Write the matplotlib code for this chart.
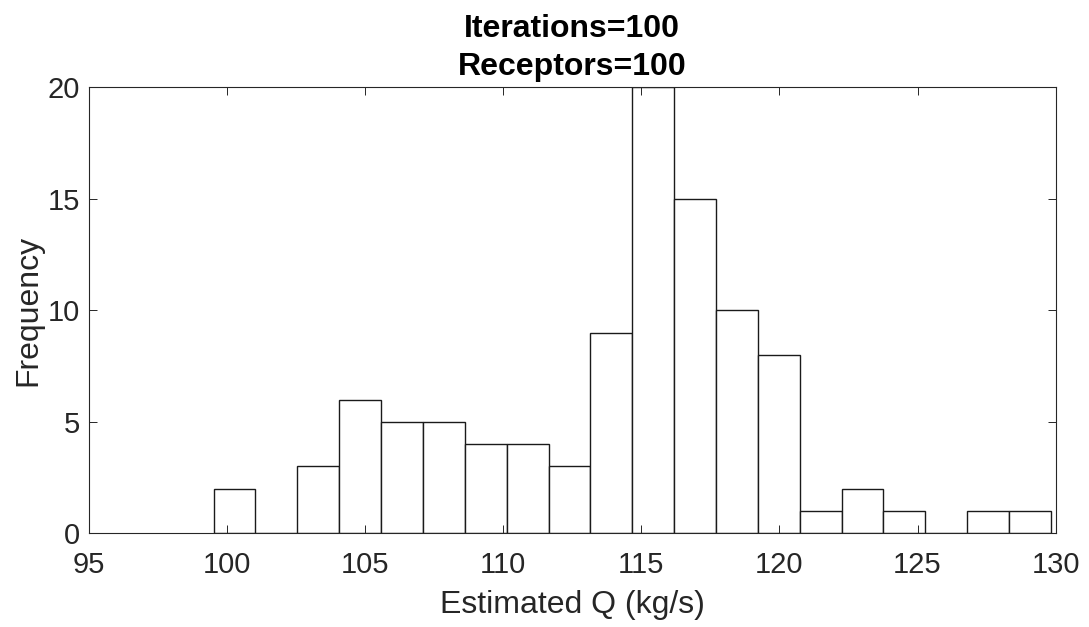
import matplotlib.pyplot as plt
import numpy as np

# Histogram of estimated Q, 20 bins
bin_edges = [99.53, 101.04, 102.56, 104.07, 105.59, 107.10, 108.62, 110.13,
             111.65, 113.16, 114.68, 116.19, 117.70, 119.22, 120.73, 122.25,
             123.76, 125.28, 126.79, 128.31, 129.82]
counts = [2, 0, 3, 6, 5, 5, 4, 4, 3, 9, 20, 15, 10, 8, 1, 2, 1, 0, 1, 1]
x_ticks = [95, 100, 105, 110, 115, 120, 125, 130]
y_ticks = [0, 5, 10, 15, 20]

plt.rcParams['font.family'] = ['Liberation Sans', 'DejaVu Sans']
axis_grey = '#262626'

fig = plt.figure(figsize=(10.89, 6.27), dpi=100)
ax = fig.add_axes([0.0813, 0.1494, 0.8881, 0.7114])

edges = np.array(bin_edges)
ax.bar(edges[:-1], counts, width=np.diff(edges), align='edge',
       facecolor='white', edgecolor='#1a1a1a', linewidth=1.0)

ax.set_xlim(95, 130)
ax.set_ylim(0, 20)
ax.set_xticks(x_ticks)
ax.set_yticks(y_ticks)
ax.tick_params(direction='in', length=5.5, width=0.7, colors=axis_grey,
               labelsize=21, top=True, right=True)
ax.tick_params(axis='x', pad=13)
ax.tick_params(axis='y', pad=6)
for s in ax.spines.values():
    s.set_color(axis_grey)
    s.set_linewidth(0.8)

ax.set_xlabel('Estimated Q (kg/s)', fontsize=23, color=axis_grey, labelpad=8)
ax.set_ylabel('Frequency', fontsize=23, color=axis_grey, labelpad=3)
ax.set_title('Iterations=100\nReceptors=100', fontsize=23, fontweight='bold',
             linespacing=1.38, pad=8.5)

fig.savefig('out.png', dpi=100)
